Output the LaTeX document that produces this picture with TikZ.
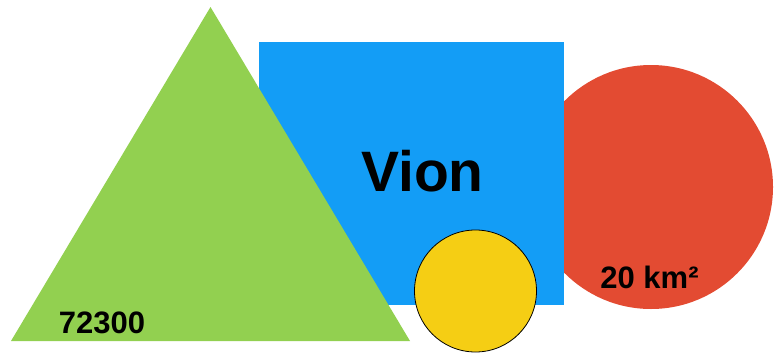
\documentclass[tikz,border=0pt]{standalone}
\usepackage{fontspec}
\setmainfont{Liberation Sans}
\definecolor{shGreen}{HTML}{92D050}
\definecolor{shBlue}{HTML}{139DF6}
\definecolor{shRed}{HTML}{E34B32}
\definecolor{shYellow}{HTML}{F5CE14}
\usetikzlibrary{positioning}

\begin{document}
\begin{tikzpicture}[x=1pt,y=-1pt,
  lbl/.style={anchor=base,inner sep=0pt,font=\bfseries\fontsize{31}{31}\selectfont}]
\useasboundingbox (0,0) rectangle (779,356);
% circle behind the square
\fill[shRed] (651,187) circle[radius=122];
% square
\fill[shBlue] (259,42) rectangle (564,305);
% triangle
\fill[shGreen] (210.5,7) -- (410,341) -- (11,341) -- cycle;
% small circle on top
\filldraw[fill=shYellow,draw=black,line width=0.8pt] (475.5,291) circle[radius=61];
% labels
\node[lbl,font=\bfseries\fontsize{57}{57}\selectfont] (vion) at (422.5,191.7) {Vion};
\node[lbl] (count) at (102,333.3) {72300};
\node[lbl] (area) at (649.5,288) {20 km²};
\end{tikzpicture}
\end{document}
